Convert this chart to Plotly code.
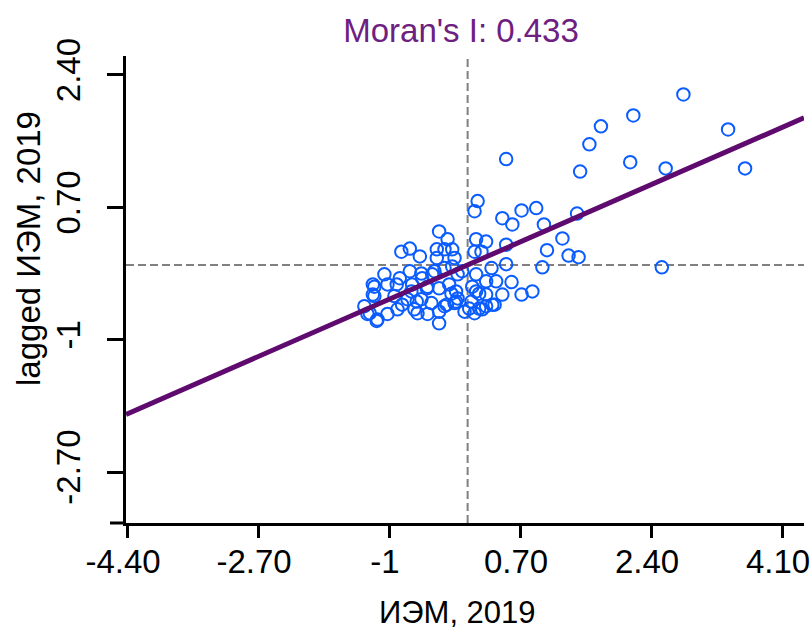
import plotly.graph_objects as go

# ---- data ----
iem_2019 = [
    2.82, 2.17, 1.75, 1.60, 0.52, 1.48, 2.13, 2.59, 3.40, 3.62, 2.54,
    1.44, 0.91, 0.72, 0.60, 0.47, 1.01, 1.25, 0.52, 1.05, 1.33, 1.46, 0.52, 0.99, 0.59, 0.72, 0.86, 0.47,
    0.15, 0.11, 0.26, 0.13, 0.11, 0.20, 0.33, 0.26, 0.13, 0.39, 0.26, 0.13, 0.11, 0.21, 0.34, 0.07,
    0.08, 0.17, 0.37, -0.02, 0.04, 0.17, 0.26,
    -0.35, -0.24, -0.28, -0.38, -0.18, -0.73, -0.84, -0.60, -0.38, -0.15,
    -1.06, -1.19, -1.02, -0.86, -0.73, -0.58, -0.41, -0.28, -0.11,
    -0.93, -1.19, -0.70, -0.50, -0.35, -0.19, -0.11, -0.76, -0.58, -0.45, -0.28, -0.15,
    -0.67, -0.50, -0.35, -1.28, -1.15, -1.02, -0.35, -0.83, -1.32,
    -0.71, -0.57, -0.44, -0.51, -0.22, -0.13, -0.13, -0.25, -0.64, -0.89,
    -1.16, -1.25, -0.63, -0.18, -0.05, -1.21, -0.90, -1.21,
]
lagged_iem_2019 = [
    2.15, 1.88, 1.74, 1.51, 1.32, 1.16, 1.28, 1.20, 1.70, 1.20, -0.07,
    0.62, 0.69, 0.66, 0.48, 0.56, 0.48, 0.30, 0.22, 0.15, 0.08, 0.06, -0.03, -0.07, -0.26, -0.42, -0.38, -0.42,
    0.78, 0.65, 0.26, 0.29, 0.13, 0.13, -0.08, -0.25, -0.16, -0.25, -0.42, -0.38, -0.66, -0.61, -0.55, -0.51,
    -0.32, -0.41, -0.55, -0.64, -0.60, -0.60, -0.57,
    0.39, 0.29, 0.16, 0.16, 0.16, 0.17, 0.13, 0.07, 0.05, 0.05,
    -0.16, -0.32, -0.29, -0.21, -0.12, -0.15, -0.12, -0.08, -0.16,
    -0.44, -0.44, -0.29, -0.32, -0.34, -0.41, -0.47, -0.48, -0.48, -0.53, -0.57, -0.53,
    -0.61, -0.67, -0.64, -0.67, -0.74, -0.67, -0.79, -0.55, -0.57,
    -0.38, -0.21, -0.16, -0.34, -0.29, -0.38, -0.51, -0.55, -0.51, -0.61,
    -0.76, -0.66, -0.66, -0.06, -0.12, -0.29, -0.29, -0.42,
]
morans_i = 0.433
mean_x = 0.02
mean_y = -0.04
x_range = [-4.413, 4.385]
y_range = [-3.355, 2.644]
x_ticks = [-4.40, -2.70, -1, 0.70, 2.40, 4.10]
x_tick_labels = ["-4.40", "-2.70", "-1", "0.70", "2.40", "4.10"]
y_ticks = [-2.70, -1, 0.70, 2.40]
y_tick_labels = ["-2.70", "-1", "0.70", "2.40"]
title_text = "Moran's I: 0.433"
x_title = "ИЭМ, 2019"
y_title = "lagged ИЭМ, 2019"

FONT = "Arial, Liberation Sans, sans-serif"
PURPLE = "#5E0A6E"
BLUE = "#0A5CFF"
GRAY = "#808080"
FS = 33

# plot area in pixels: x 126..804, y 56..523
L, R, T, B = 126, 7, 56, 109
W, H = 811, 632
PW, PH = W - L - R, H - T - B

fig = go.Figure()

# reference (mean) dashed lines
fig.add_trace(go.Scatter(x=[mean_x, mean_x], y=y_range, mode="lines",
                         line=dict(color=GRAY, width=2, dash="8px,4px"),
                         hoverinfo="skip", showlegend=False))
fig.add_trace(go.Scatter(x=x_range, y=[mean_y, mean_y], mode="lines",
                         line=dict(color=GRAY, width=2, dash="8px,4px"),
                         hoverinfo="skip", showlegend=False))

# points
fig.add_trace(go.Scatter(x=iem_2019, y=lagged_iem_2019, mode="markers",
                         marker=dict(symbol="circle-open", size=12.5, color=BLUE,
                                     line=dict(width=2, color=BLUE)),
                         showlegend=False))

# regression line with slope = Moran's I through the means
line_x = x_range
line_y = [mean_y + morans_i * (v - mean_x) for v in line_x]
fig.add_trace(go.Scatter(x=line_x, y=line_y, mode="lines",
                         line=dict(color=PURPLE, width=5),
                         hoverinfo="skip", showlegend=False))

fig.update_layout(
    width=W, height=H,
    margin=dict(l=L, r=R, t=T, b=B),
    paper_bgcolor="white", plot_bgcolor="white",
    font=dict(family=FONT, size=FS, color="black"),
    title=dict(text=title_text, x=461 / W, xanchor="center", xref="container",
               y=1 - 30 / H, yanchor="middle", yref="container",
               font=dict(family=FONT, size=FS, color="#6E2080")),
    xaxis=dict(range=x_range, tickmode="array", tickvals=x_ticks, ticktext=x_tick_labels,
               automargin=False, ticklabeloverflow="allow", ticklabelshift=-4,
               showgrid=False, zeroline=False, showline=True, linecolor="black", linewidth=3,
               ticks="outside", ticklen=12, tickwidth=3, tickcolor="black",
               ticklabelstandoff=-5),
    yaxis=dict(range=y_range, tickmode="array", tickvals=y_ticks, ticktext=y_tick_labels,
               tickangle=-90, automargin=False, ticklabeloverflow="allow",
               showgrid=False, zeroline=False, showline=True, linecolor="black", linewidth=3,
               ticks="outside", ticklen=16, tickwidth=3, tickcolor="black",
               ticklabelstandoff=14),
)

# axis titles
fig.add_annotation(text=x_title, xref="paper", yref="paper",
                   x=(457 - L) / PW, y=(H - B - 612) / PH,
                   xanchor="center", yanchor="middle", showarrow=False,
                   font=dict(family=FONT, size=31, color="black"))
fig.add_annotation(text=y_title, xref="paper", yref="paper", textangle=-90,
                   x=(28 - L) / PW, y=(H - B - 248) / PH,
                   xanchor="center", yanchor="middle", showarrow=False,
                   font=dict(family=FONT, size=FS, color="black"))

# x axis line extends slightly to the left of the y axis (as in the reference)
fig.add_shape(type="line", xref="paper", yref="paper", x0=-16 / PW, x1=0, y0=0, y1=0,
              line=dict(color="black", width=3))

# remove the default 8px page margin so the figure fills the 811x632 window exactly
fig.write_html("out.html", config={"displayModeBar": False},
               post_script="document.body.style.margin='0';document.body.style.overflow='hidden';")
